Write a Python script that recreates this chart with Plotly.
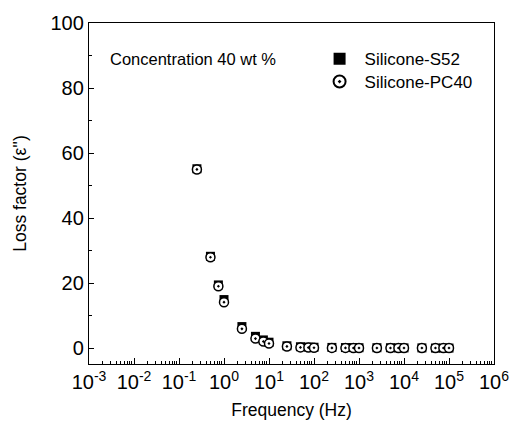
import plotly.graph_objects as go

# Measurement frequencies (Hz)
freq = [0.25, 0.5, 0.75, 1, 2.5, 5, 7.5, 10, 25, 50, 75, 100,
        250, 500, 750, 1000, 2500, 5000, 7500, 10000,
        25000, 50000, 75000, 100000]

# Loss factor for each sample
loss_s52 = [55.2, 28.3, 19.5, 15.0, 6.7, 3.7, 2.6, 1.9, 0.8, 0.5, 0.4, 0.35,
            0.3, 0.25, 0.25, 0.2, 0.2, 0.2, 0.15, 0.15,
            0.15, 0.1, 0.1, 0.1]
loss_pc40 = [55.0, 28.0, 19.1, 14.2, 6.0, 3.0, 2.1, 1.5, 0.6, 0.3, 0.25, 0.2,
             0.15, 0.15, 0.1, 0.1, 0.1, 0.1, 0.1, 0.1,
             0.1, 0.1, 0.1, 0.1]

x_tick_vals = [1e-3, 1e-2, 1e-1, 1e0, 1e1, 1e2, 1e3, 1e4, 1e5, 1e6]
x_tick_text = ["10<sup>-3</sup>", "10<sup>-2</sup>", "10<sup>-1</sup>", "10<sup>0</sup>",
               "10<sup>1</sup>", "10<sup>2</sup>", "10<sup>3</sup>", "10<sup>4</sup>",
               "10<sup>5</sup>", "10<sup>6</sup>"]
y_tick_vals = [0, 20, 40, 60, 80, 100]

# minor log ticks at 2..9 within each decade
x_minor_vals = [m * 10.0 ** e for e in range(-3, 6) for m in range(2, 10)]

font_family = "Liberation Sans, Arial, sans-serif"

fig = go.Figure()
fig.add_trace(go.Scatter(
    x=freq, y=loss_s52, mode="markers", name="Silicone-S52",
    legend="legend",
    marker=dict(symbol="square", size=9, color="black",
                line=dict(color="black", width=0)),
))
fig.add_trace(go.Scatter(
    x=freq, y=loss_pc40, mode="markers", name="Silicone-PC40",
    legend="legend2",
    marker=dict(symbol="circle-dot", size=9, color="white",
                line=dict(color="black", width=1.5)),
))

fig.add_annotation(
    x=0.046, y=0.894, xref="paper", yref="paper",
    xanchor="left", yanchor="middle", showarrow=False,
    text="Concentration 40 wt %",
    font=dict(family=font_family, size=16.5, color="black"),
)

legend_style = dict(
    xanchor="left", yanchor="middle",
    bgcolor="rgba(0,0,0,0)", font=dict(size=17),
    itemsizing="constant", itemwidth=40,
)

fig.update_layout(
    width=521, height=432,
    margin=dict(l=89, r=20, t=21, b=68),
    paper_bgcolor="white", plot_bgcolor="white",
    font=dict(family=font_family, color="black"),
    showlegend=True,
    legend=dict(x=0.557, y=0.894, **legend_style),
    legend2=dict(x=0.557, y=0.827, **legend_style),
    xaxis=dict(
        type="log", range=[-3, 6],
        tickvals=x_tick_vals, ticktext=x_tick_text,
        tickfont=dict(size=20),
        ticks="inside", ticklen=6, tickwidth=1, tickcolor="black",
        minor=dict(tickvals=x_minor_vals, ticks="inside", ticklen=3,
                   tickwidth=1, tickcolor="black", showgrid=False),
        showline=True, linecolor="black", linewidth=1.3, mirror=True,
        showgrid=False, zeroline=False,
        title=dict(text="Frequency (Hz)", font=dict(size=17.5), standoff=11),
    ),
    yaxis=dict(
        range=[-4.8, 100],
        tickvals=y_tick_vals,
        tickfont=dict(size=20),
        ticks="inside", ticklen=5, tickwidth=1, tickcolor="black",
        minor=dict(ticks="inside", ticklen=3, tickcolor="black", dtick=10,
                   tick0=0, showgrid=False),
        showline=True, linecolor="black", linewidth=1.3, mirror=True,
        showgrid=False, zeroline=False,
        title=dict(text="Loss factor (\u03b5'')", font=dict(size=17.5), standoff=19),
    ),
)

fig.write_html("out.html")
